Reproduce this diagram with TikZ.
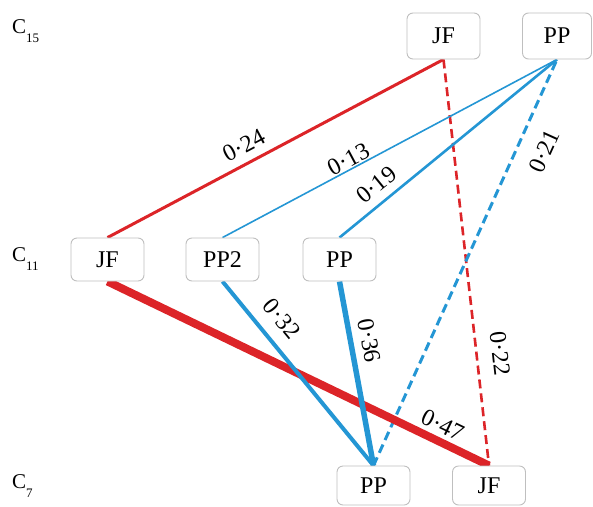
\documentclass[tikz,border=0pt]{standalone}
\usepackage{fontspec}
\setmainfont{Liberation Serif}
\usetikzlibrary{backgrounds}
\definecolor{myred}{RGB}{220,36,40}
\definecolor{myblue}{RGB}{36,150,212}
\newcommand{\lvltext}[1]{C\raisebox{-9pt}{\fontsize{13}{13}\selectfont #1}}
\begin{document}
\begin{tikzpicture}[x=1pt,y=-1pt,
  box/.style={draw=gray!50, line width=0.9pt, rounded corners=6pt, fill=white,
    minimum width=73pt, minimum height=43pt, inner sep=0pt,
    font=\fontsize{24}{28}\selectfont},
  lvl/.style={anchor=base west, inner sep=0pt, font=\fontsize{21}{25}\selectfont},
  wlab/.style={sloped, font=\fontsize{24}{28}\selectfont, inner sep=2pt},
  redl/.style={draw=myred},
  bluel/.style={draw=myblue},
  dsh/.style={dash pattern=on 9pt off 5pt}]
\useasboundingbox (0,0) rectangle (593,506);

% nodes
\node[box, minimum height=46pt] (jf15) at (443.5,36) {JF};
\node[box, minimum height=46pt, minimum width=69pt] (pp15) at (557,36) {PP};
\node[box] (jf11) at (107.5,259.5) {JF};
\node[box] (pp211) at (222.5,259.5) {PP2};
\node[box] (pp11) at (339.5,259.5) {PP};
\node[box, minimum height=39pt] (pp7) at (373.5,485.5) {PP};
\node[box, minimum height=39pt] (jf7) at (489,485.5) {JF};

% level labels
\node[lvl] (c15) at (12,33) {\lvltext{15}};
\node[lvl] (c11) at (12,261) {\lvltext{11}};
\node[lvl] (c7) at (12,488) {\lvltext{7}};

% edges
\begin{pgfonlayer}{background}
\draw[redl, line width=3pt] (jf11.north) -- node[wlab, pos=0.43, above, inner sep=8pt] (l24) {0·24} (jf15.south);
\draw[redl, line width=2.6pt, dsh] (jf15.south) -- node[wlab, pos=0.73, above, inner sep=14pt] (l22) {0·22} (jf7.north);
\draw[bluel, line width=1.6pt] (pp211.north) -- node[wlab, pos=0.39, above, inner sep=1pt] (l13) {0·13} (pp15.south);
\draw[bluel, line width=2.6pt] (pp11.north) -- node[wlab, pos=0.22, above, inner sep=8pt] (l19) {0·19} (pp15.south);
\draw[bluel, line width=3pt, dsh] (pp7.north) -- node[wlab, pos=0.80, below, inner sep=17pt] (l21) {0·21} (pp15.south);
\draw[redl, line width=8pt] (jf11.south) -- node[wlab, pos=0.86, above, inner sep=4pt] (l47) {0·47} (jf7.north);
\draw[bluel, line width=4pt] (pp211.south) -- node[wlab, pos=0.28, above, inner sep=12pt] (l32) {0·32} (pp7.north);
\draw[bluel, line width=5.5pt] (pp11.south) -- node[wlab, pos=0.34, above, inner sep=8pt] (l36) {0·36} (pp7.north);
\end{pgfonlayer}
\end{tikzpicture}
\end{document}
